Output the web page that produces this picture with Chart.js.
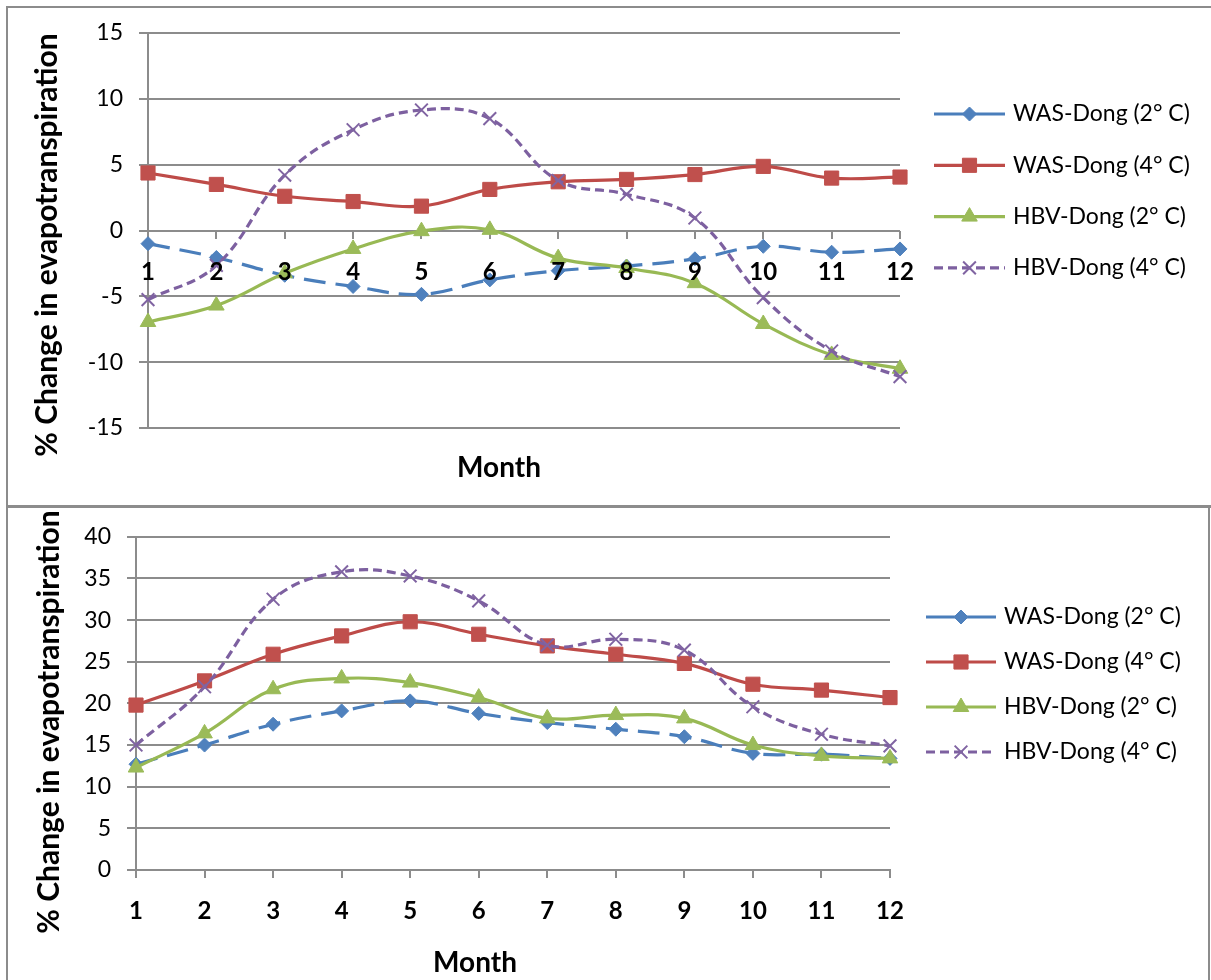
<!DOCTYPE html>
<html>
<head>
<meta charset="utf-8">
<title>% Change in evapotranspiration by month</title>
<script src="https://cdn.jsdelivr.net/npm/chart.js@4.4.1/dist/chart.umd.min.js"></script>
<style>
  html, body { margin: 0; padding: 0; background: #fff; }
  #page { position: relative; width: 1211px; height: 980px; overflow: hidden; background: #fff; }
  #page canvas { position: absolute; left: 0; }
  #upper { top: 0; }
  #lower { top: 507px; }
  .frame { position: absolute; background: #8c8c8c; }
</style>
</head>
<body>
<div id="page">
  <canvas id="upper" width="1211" height="507"></canvas>
  <canvas id="lower" width="1211" height="473"></canvas>
  <div class="frame" style="left:6px;top:6px;width:1205px;height:2px"></div>
  <div class="frame" style="left:6px;top:6px;width:2px;height:974px"></div>
  <div class="frame" style="left:6px;top:505px;width:1205px;height:3px"></div>
  <div class="frame" style="left:1208px;top:505px;width:2px;height:475px"></div>
</div>
<script>
// Month categories shared by both panels
const months = ['1', '2', '3', '4', '5', '6', '7', '8', '9', '10', '11', '12'];
const seriesNames = ['WAS-Dong (2° C)', 'WAS-Dong (4° C)', 'HBV-Dong (2° C)', 'HBV-Dong (4° C)'];
const xTitle = 'Month';
const yTitle = '% Change in evapotranspiration';

// Upper panel: % change per month
const upperWas2 = [-1.0, -2.05, -3.4, -4.25, -4.85, -3.75, -3.05, -2.7, -2.15, -1.2, -1.65, -1.4];
const upperWas4 = [4.37, 3.5, 2.6, 2.2, 1.85, 3.12, 3.7, 3.88, 4.25, 4.87, 3.98, 4.06];
const upperHbv2 = [-6.95, -5.7, -3.25, -1.4, -0.05, 0.05, -2.1, -2.85, -4.0, -7.1, -9.45, -10.5];
const upperHbv4 = [-5.25, -2.65, 4.2, 7.65, 9.15, 8.5, 3.8, 2.75, 0.95, -5.1, -9.15, -11.1];
const upperTicks = { min: -15, max: 15, step: 5 };

// Lower panel: % change per month
const lowerWas2 = [12.7, 15.0, 17.5, 19.1, 20.3, 18.8, 17.7, 16.9, 16.0, 14.0, 13.9, 13.4];
const lowerWas4 = [19.8, 22.7, 25.9, 28.1, 29.8, 28.3, 26.9, 25.9, 24.8, 22.3, 21.6, 20.7];
const lowerHbv2 = [12.3, 16.4, 21.7, 23.0, 22.5, 20.7, 18.2, 18.6, 18.2, 15.0, 13.7, 13.4];
const lowerHbv4 = [15.0, 22.0, 32.5, 35.8, 35.3, 32.3, 27.0, 27.7, 26.4, 19.6, 16.3, 14.9];
const lowerTicks = { min: 0, max: 40, step: 5 };

const GRID = '#8c8c8c';
const FONT = 'Lato, "Open Sans", sans-serif';

// Per-series look (line colour, marker, dash)
const styles = [
  { line: '#4a7ebb', fill: '#4f81bd', dash: [22, 10], legendDash: [], point: 'rectRot', radius: 7, pbw: 1 },
  { line: '#be4b48', fill: '#c0504d', dash: [], legendDash: [], point: 'rect', radius: 10, pbw: 1 },
  { line: '#98b954', fill: '#9bbb59', dash: [], legendDash: [], point: 'triangle', radius: 9, pbw: 1 },
  { line: '#7d60a0', fill: '#8064a2', dash: [9, 5], legendDash: [9, 5], point: 'crossRot', radius: 9, pbw: 2 }
];

function buildDatasets(seriesValues) {
  return seriesValues.map((values, i) => {
    const s = styles[i];
    return {
      label: seriesNames[i],
      data: values,
      borderColor: s.line,
      borderWidth: 3.2,
      borderDash: s.dash,
      tension: 0.4,
      fill: false,
      pointStyle: s.point,
      pointRadius: s.radius,
      pointHoverRadius: s.radius,
      pointBackgroundColor: s.fill,
      pointBorderColor: s.fill,
      pointBorderWidth: s.pbw,
      order: seriesValues.length - 1 - i
    };
  });
}

// Axis titles drawn at fixed spots of each panel
const axisTitles = {
  id: 'axisTitles',
  afterDraw(chart, args, opts) {
    const ctx = chart.ctx;
    ctx.save();
    ctx.fillStyle = '#000';
    ctx.textAlign = 'center';
    ctx.textBaseline = 'middle';
    ctx.font = 'bold 28px ' + FONT;
    ctx.fillText(xTitle, opts.xAt[0], opts.xAt[1]);
    ctx.translate(opts.yAt[0], opts.yAt[1]);
    ctx.rotate(-Math.PI / 2);
    ctx.font = 'bold 30px ' + FONT;
    ctx.fillText(yTitle, 0, 0);
    ctx.restore();
  }
};

// Legend with a line sample and the series marker in the middle
const lineLegend = {
  id: 'lineLegend',
  afterDraw(chart, args, opts) {
    const ctx = chart.ctx;
    chart.data.datasets.forEach((ds, i) => {
      const s = styles[i];
      const y = opts.top + i * opts.spacing;
      const x0 = opts.left, x1 = opts.left + opts.length;
      ctx.save();
      ctx.strokeStyle = ds.borderColor;
      ctx.lineWidth = ds.borderWidth;
      ctx.setLineDash(s.legendDash);
      ctx.beginPath();
      ctx.moveTo(x0, y);
      ctx.lineTo(x1, y);
      ctx.stroke();
      ctx.setLineDash([]);
      ctx.fillStyle = ds.pointBackgroundColor;
      ctx.strokeStyle = ds.pointBorderColor;
      ctx.lineWidth = ds.pointBorderWidth;
      Chart.helpers.drawPoint(ctx, {
        pointStyle: ds.pointStyle, radius: ds.pointRadius,
        borderWidth: ds.pointBorderWidth, rotation: 0
      }, (x0 + x1) / 2, y);
      ctx.fillStyle = '#000';
      ctx.font = '23px ' + FONT;
      ctx.textAlign = 'left';
      ctx.textBaseline = 'middle';
      ctx.fillText(ds.label, x1 + opts.gap, y);
      ctx.restore();
    });
  }
};

function makeChart(canvasId, seriesValues, ticks, cfg) {
  return new Chart(document.getElementById(canvasId), {
    type: 'line',
    data: { labels: months, datasets: buildDatasets(seriesValues) },
    plugins: [axisTitles, lineLegend],
    options: {
      responsive: false,
      animation: false,
      events: [],
      layout: { padding: cfg.padding },
      plugins: {
        legend: { display: false },
        tooltip: { enabled: false },
        title: { display: false },
        axisTitles: cfg.titles,
        lineLegend: cfg.legend
      },
      scales: {
        x: {
          type: 'category',
          offset: false,
          position: cfg.xPosition,
          grid: { drawOnChartArea: false, drawTicks: true, tickLength: 8, color: GRID, lineWidth: 2 },
          border: { display: cfg.xBorder, color: GRID, width: 2 },
          ticks: {
            z: cfg.labelZ,
            color: '#000', autoSkip: false, maxRotation: 0, padding: cfg.xTickPad,
            font: { family: FONT, size: 24, weight: 'bold' }
          },
          afterFit(scale) { if (cfg.xHeight) scale.height = cfg.xHeight; }
        },
        y: {
          min: ticks.min,
          max: ticks.max,
          grid: { color: GRID, lineWidth: 2, tickLength: 9 },
          border: { display: true, color: GRID, width: 2 },
          ticks: { stepSize: ticks.step, color: '#000', padding: 16, font: { family: FONT, size: 23 } },
          afterFit(scale) { scale.width = cfg.yWidth; }
        }
      }
    }
  });
}

function drawAll() {
  makeChart('upper', [upperWas2, upperWas4, upperHbv2, upperHbv4], upperTicks, {
    padding: { left: 0, top: 33, right: 311, bottom: 79 },
    xPosition: { y: 0 },
    labelZ: 1,
    xBorder: false,
    xTickPad: 19,
    yWidth: 148,
    titles: { xAt: [499, 468], yAt: [47, 245] },
    legend: { left: 934, length: 71, gap: 8, top: 114, spacing: 51.3 }
  });
  makeChart('lower', [lowerWas2, lowerWas4, lowerHbv2, lowerHbv4], lowerTicks, {
    padding: { left: 0, top: 25, right: 321, bottom: 60 },
    xPosition: 'bottom',
    labelZ: 0,
    xBorder: true,
    xTickPad: 19,
    xHeight: 50,
    yWidth: 136,
    titles: { xAt: [475, 456], yAt: [49, 215] },
    legend: { left: 926, length: 70, gap: 8, top: 110, spacing: 45 }
  });
}

if (document.fonts && document.fonts.load) {
  Promise.all([
    document.fonts.load('23px Lato'),
    document.fonts.load('bold 28px Lato')
  ]).then(drawAll, drawAll);
} else {
  drawAll();
}
</script>
</body>
</html>
